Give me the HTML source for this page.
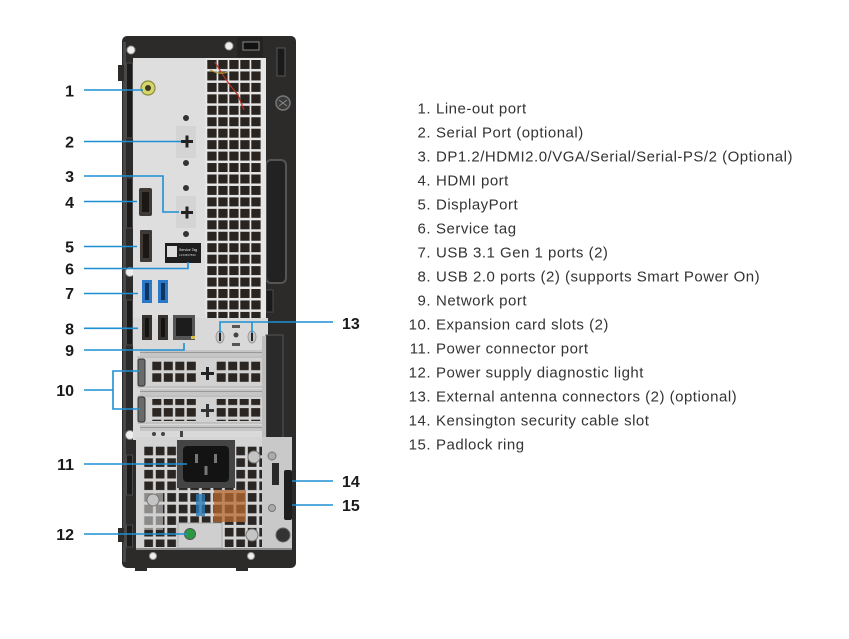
<!DOCTYPE html>
<html><head><meta charset="utf-8"><style>
html,body{margin:0;padding:0;background:#fff;}
svg{display:block}
.n{font-family:"Liberation Sans",Arial,sans-serif;font-weight:bold;font-size:16px;fill:#1a1a1a}
.t{font-family:"Liberation Sans",Arial,sans-serif;font-size:15px;fill:#333;letter-spacing:0.5px}
</style></head><body>
<svg width="849" height="639" viewBox="0 0 849 639" xmlns="http://www.w3.org/2000/svg">
<defs>
<pattern id="g1" x="207.3" y="60" width="11" height="11.45" patternUnits="userSpaceOnUse">
<rect width="9.3" height="9" fill="#2a2420"/>
</pattern>
<pattern id="g2" x="152.3" y="361.7" width="11.5" height="11.6" patternUnits="userSpaceOnUse">
<rect width="9" height="8.5" fill="#2b2622"/>
</pattern>
<pattern id="g3" x="216.7" y="361.7" width="11.5" height="11.6" patternUnits="userSpaceOnUse">
<rect width="9" height="8.5" fill="#2b2622"/>
</pattern>
<pattern id="g4" x="144.3" y="446.7" width="11.5" height="11.6" patternUnits="userSpaceOnUse">
<rect width="8.7" height="8.6" fill="#2a2624"/>
</pattern>
</defs>

<!-- chassis -->
<rect x="122" y="36" width="174" height="532" rx="5" fill="#2d2b2a"/>
<rect x="123" y="42" width="3" height="520" fill="#4a4847"/>
<rect x="118" y="65" width="6" height="16" fill="#2d2b2a"/>
<rect x="118" y="528" width="6" height="14" fill="#2d2b2a"/>
<rect x="135" y="565" width="12" height="6" fill="#2d2b2a"/>
<rect x="236" y="565" width="12" height="6" fill="#2d2b2a"/>

<!-- left strip slots -->
<rect x="126.5" y="63" width="6" height="75" fill="#1c1b1a" stroke="#4a4a4a"/>
<rect x="126.5" y="178" width="6" height="50" fill="#1c1b1a" stroke="#4a4a4a"/>
<rect x="126.5" y="300" width="6" height="45" fill="#1c1b1a" stroke="#4a4a4a"/>
<rect x="126.5" y="455" width="6" height="40" fill="#1c1b1a" stroke="#4a4a4a"/>
<rect x="126.5" y="525" width="6" height="22" fill="#1c1b1a" stroke="#4a4a4a"/>
<circle cx="130" cy="272" r="4.5" fill="#eee" stroke="#888"/>
<circle cx="130" cy="435" r="4.5" fill="#eee" stroke="#888"/>

<!-- top band details -->
<rect x="237" y="37" width="26" height="20" fill="#242322"/>
<rect x="243" y="42" width="16" height="8" fill="#111" stroke="#888"/>
<circle cx="131" cy="50" r="4" fill="#eee" stroke="#999"/>
<circle cx="229" cy="46" r="4" fill="#eee" stroke="#999"/>

<!-- right column details -->
<rect x="277" y="48" width="8" height="28" fill="#1a1a1a" stroke="#555"/>
<circle cx="283" cy="103" r="7" fill="#3a3a3a" stroke="#777" stroke-width="1.5"/>
<path d="M279 100 L287 106 M279 106 L287 100" stroke="#888" stroke-width="1"/>
<rect x="266" y="160" width="20" height="123" rx="5" fill="#222" stroke="#555" stroke-width="2"/>
<rect x="266" y="290" width="7" height="22" fill="#1a1a1a" stroke="#4a4a4a"/>

<!-- silver I/O panel -->
<rect x="133" y="58" width="75" height="382" fill="#dedede"/>
<rect x="205" y="58" width="61" height="262" fill="#e6e6e6"/>
<rect x="207" y="60" width="55" height="260" fill="url(#g1)"/>
<path d="M215 62 Q225 80 238 95 L244 110" stroke="#c03020" stroke-width="1.2" fill="none"/>
<path d="M210 70 Q220 75 228 72" stroke="#b8a040" stroke-width="1.2" fill="none"/>
<rect x="133" y="318" width="135" height="122" fill="#d9d9d9"/>

<!-- line out -->
<circle cx="148" cy="88" r="7" fill="#d6d66a" stroke="#8a8a3a" stroke-width="1.2"/>
<circle cx="148" cy="88" r="3" fill="#3a3a20"/>

<!-- serial recesses and plus -->
<rect x="176" y="126" width="20" height="32" fill="#d4d4d4"/>
<rect x="176" y="196" width="20" height="32" fill="#d4d4d4"/>
<rect x="181" y="140" width="12" height="3" fill="#222"/>
<rect x="185.5" y="135.5" width="3" height="12" fill="#222"/>
<rect x="181" y="211" width="12" height="3" fill="#222"/>
<rect x="185.5" y="206.5" width="3" height="12" fill="#222"/>
<circle cx="186" cy="118" r="3" fill="#333"/>
<circle cx="186" cy="163" r="3" fill="#333"/>
<circle cx="186" cy="188" r="3" fill="#333"/>
<circle cx="186" cy="234" r="3" fill="#333"/>

<!-- HDMI / DP -->
<rect x="139" y="188" width="13" height="28" rx="2" fill="#403a36"/>
<rect x="142" y="192" width="7" height="20" fill="#1a1816"/>
<rect x="140" y="230" width="12" height="32" rx="1" fill="#403a36"/>
<rect x="143" y="234" width="6" height="24" fill="#1a1816"/>

<!-- service tag -->
<rect x="165" y="243" width="36" height="20" fill="#1e1e1e"/>
<rect x="167" y="246" width="10" height="11" fill="#ddd"/>
<text x="179" y="251" font-family="Liberation Sans,sans-serif" font-size="3.5" fill="#eee">Service Tag</text>
<text x="179" y="256" font-family="Liberation Sans,sans-serif" font-size="3" fill="#ccc">1234567890</text>

<!-- USB -->
<rect x="142" y="280" width="10" height="23" fill="#2a78c8"/>
<rect x="145" y="283" width="4" height="17" fill="#0d3560"/>
<rect x="158" y="280" width="10" height="23" fill="#2a78c8"/>
<rect x="161" y="283" width="4" height="17" fill="#0d3560"/>
<rect x="142" y="315" width="10" height="25" fill="#353230"/>
<rect x="145" y="318" width="4" height="19" fill="#141312"/>
<rect x="158" y="315" width="10" height="25" fill="#353230"/>
<rect x="161" y="318" width="4" height="19" fill="#141312"/>
<!-- RJ45 -->
<rect x="173" y="315" width="22" height="25" fill="#555"/>
<rect x="176" y="318" width="16" height="18" fill="#1c1c1c"/>
<rect x="191" y="336" width="4" height="3" fill="#d8c040"/>

<!-- antenna -->
<ellipse cx="220" cy="337" rx="4" ry="6" fill="#c8c8c8" stroke="#999"/>
<rect x="219" y="333" width="2" height="8" fill="#222"/>
<ellipse cx="252" cy="337" rx="4" ry="6" fill="#c8c8c8" stroke="#999"/>
<rect x="251" y="333" width="2" height="8" fill="#222"/>
<circle cx="236" cy="335" r="2.5" fill="#444"/>
<rect x="232" y="343" width="8" height="3" fill="#555"/>
<rect x="232" y="325" width="8" height="3" fill="#555"/>

<!-- expansion slots -->
<rect x="140" y="350" width="125" height="6" fill="#c6c6c6"/>
<rect x="140" y="352" width="125" height="1" fill="#999"/>
<rect x="138" y="357" width="128" height="30" fill="#d2d2d2" stroke="#aaa"/>
<rect x="138" y="359" width="7" height="27" rx="2" fill="#6a6a6a" stroke="#333"/>
<rect x="152" y="361" width="46" height="22" fill="url(#g2)"/>
<rect x="216" y="361" width="46" height="22" fill="url(#g3)"/>
<rect x="201" y="372" width="13" height="3" fill="#222"/>
<rect x="206" y="367" width="3" height="13" fill="#222"/>
<rect x="140" y="389" width="125" height="6" fill="#c6c6c6"/>
<rect x="140" y="391" width="125" height="1" fill="#999"/>
<rect x="138" y="396" width="128" height="27" fill="#d2d2d2" stroke="#aaa"/>
<rect x="138" y="397" width="7" height="25" rx="2" fill="#6a6a6a" stroke="#333"/>
<rect x="152" y="399" width="46" height="22" fill="url(#g2)"/>
<rect x="216" y="399" width="46" height="22" fill="url(#g3)"/>
<rect x="201" y="409" width="13" height="3" fill="#333"/>
<rect x="206" y="404" width="3" height="13" fill="#333"/>
<rect x="140" y="425" width="125" height="6" fill="#c6c6c6"/>
<rect x="140" y="427" width="125" height="1" fill="#999"/>
<circle cx="154" cy="434" r="2" fill="#444"/>
<circle cx="163" cy="434" r="2" fill="#444"/>
<rect x="180" y="431" width="3" height="6" fill="#444"/>
<rect x="266" y="335" width="17" height="105" fill="#2a2a2a" stroke="#555"/>
<rect x="262" y="336" width="4" height="104" fill="#bdbdbd"/>

<!-- PSU -->
<rect x="136" y="437" width="130" height="111" fill="#d4d4d4"/>
<rect x="143" y="445" width="120" height="102" fill="url(#g4)"/>
<rect x="214" y="490" width="32" height="32" fill="#b86a30" opacity="0.75"/>
<rect x="196" y="494" width="9" height="22" fill="#2a7ab8" opacity="0.8"/>
<rect x="143" y="490" width="20" height="40" fill="#cfcfcf" opacity="0.6"/>
<rect x="177" y="440" width="58" height="48" fill="#444"/>
<rect x="183" y="446" width="46" height="36" rx="4" fill="#131313"/>
<rect x="195" y="454" width="3" height="9" fill="#777"/>
<rect x="214" y="454" width="3" height="9" fill="#777"/>
<rect x="204.5" y="466" width="3" height="9" fill="#777"/>
<rect x="178" y="523" width="44" height="25" fill="#cfcfcf" stroke="#aaa"/>
<circle cx="190" cy="534" r="5.5" fill="#2a9a40" stroke="#555"/>
<circle cx="153" cy="500" r="6" fill="#c4c4c4" stroke="#777"/>
<circle cx="254" cy="457" r="6" fill="#c4c4c4" stroke="#777"/>
<circle cx="252" cy="535" r="6" fill="#c4c4c4" stroke="#777"/>

<!-- right plate -->
<rect x="262" y="437" width="30" height="111" fill="#c9c9c9"/>
<circle cx="272" cy="456" r="4" fill="#aaa" stroke="#777"/>
<rect x="272" y="463" width="7" height="22" fill="#2a2a2a"/>
<circle cx="272" cy="508" r="3.5" fill="#aaa" stroke="#777"/>
<rect x="284" y="470" width="8" height="50" rx="2" fill="#1e1e1e"/>
<circle cx="283" cy="535" r="7" fill="#333" stroke="#666"/>

<!-- bottom frame screws -->
<rect x="136" y="548" width="156" height="2" fill="#8a8a8a"/>
<circle cx="153" cy="556" r="3.5" fill="#eee" stroke="#999"/>
<circle cx="251" cy="556" r="3.5" fill="#eee" stroke="#999"/>

<!-- leader lines -->
<g stroke="#1d8fd4" stroke-width="1.6" fill="none">
<path d="M84 90 H143"/>
<path d="M84 141.5 H181"/>
<path d="M84 176 H163 V212 H179"/>
<path d="M84 201.5 H137"/>
<path d="M84 246.5 H137"/>
<path d="M84 268.5 H188 V262"/>
<path d="M84 293.5 H138"/>
<path d="M84 328.3 H138"/>
<path d="M84 350 H184 V343"/>
<path d="M84 390 H113"/>
<path d="M140 371 H113 V409 H140"/>
<path d="M84 464 H187"/>
<path d="M84 534 H187"/>
<path d="M333 322 H220 V333"/>
<path d="M252 322 V333"/>
<path d="M292 481 H333"/>
<path d="M292 505 H333"/>
</g>

<!-- callout numbers -->
<g class="n" text-anchor="end">
<text x="74" y="96.5">1</text>
<text x="74" y="147.5">2</text>
<text x="74" y="182">3</text>
<text x="74" y="208">4</text>
<text x="74" y="252.5">5</text>
<text x="74" y="274.5">6</text>
<text x="74" y="299">7</text>
<text x="74" y="334.5">8</text>
<text x="74" y="356">9</text>
<text x="74" y="396">10</text>
<text x="74" y="470">11</text>
<text x="74" y="540">12</text>
</g>
<g class="n">
<text x="342" y="329">13</text>
<text x="342" y="487">14</text>
<text x="342" y="511">15</text>
</g>

<!-- legend -->
<g class="t" text-anchor="end">
<text x="431" y="113.5">1.</text>
<text x="431" y="137.5">2.</text>
<text x="431" y="161.5">3.</text>
<text x="431" y="185.5">4.</text>
<text x="431" y="209.5">5.</text>
<text x="431" y="233.5">6.</text>
<text x="431" y="257.5">7.</text>
<text x="431" y="281.5">8.</text>
<text x="431" y="305.5">9.</text>
<text x="431" y="329.5">10.</text>
<text x="431" y="353.5">11.</text>
<text x="431" y="377.5">12.</text>
<text x="431" y="401.5">13.</text>
<text x="431" y="425.5">14.</text>
<text x="431" y="449.5">15.</text>
</g>
<g class="t">
<text x="436" y="113.5">Line-out port</text>
<text x="436" y="137.5">Serial Port (optional)</text>
<text x="436" y="161.5">DP1.2/HDMI2.0/VGA/Serial/Serial-PS/2 (Optional)</text>
<text x="436" y="185.5">HDMI port</text>
<text x="436" y="209.5">DisplayPort</text>
<text x="436" y="233.5">Service tag</text>
<text x="436" y="257.5">USB 3.1 Gen 1 ports (2)</text>
<text x="436" y="281.5">USB 2.0 ports (2) (supports Smart Power On)</text>
<text x="436" y="305.5">Network port</text>
<text x="436" y="329.5">Expansion card slots (2)</text>
<text x="436" y="353.5">Power connector port</text>
<text x="436" y="377.5">Power supply diagnostic light</text>
<text x="436" y="401.5">External antenna connectors (2) (optional)</text>
<text x="436" y="425.5">Kensington security cable slot</text>
<text x="436" y="449.5">Padlock ring</text>
</g>
</svg>
</body></html>
